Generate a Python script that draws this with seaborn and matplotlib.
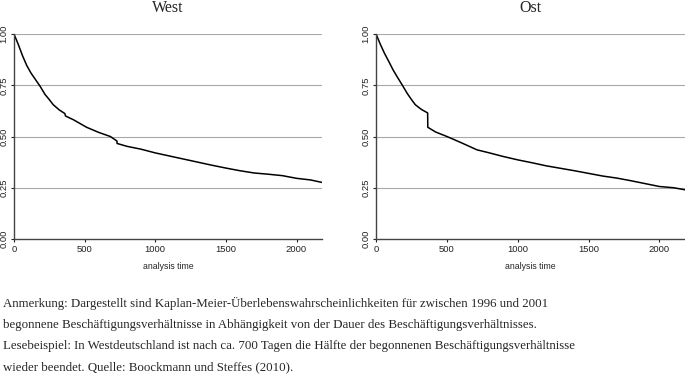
import matplotlib
matplotlib.use("Agg")
import matplotlib.pyplot as plt
import seaborn as sns
import pandas as pd

# Kaplan-Meier survival estimates
west_time = [0, 30, 60, 90, 120, 150, 185, 220, 250, 278, 320, 360, 365, 420, 514,
             600, 682, 729, 730, 800, 900, 1000, 1100, 1200, 1300, 1400, 1500, 1600,
             1700, 1800, 1900, 2000, 2100, 2180]
west_surv = [1.000, 0.950, 0.895, 0.847, 0.810, 0.780, 0.745, 0.705, 0.680, 0.655, 0.630,
             0.612, 0.600, 0.582, 0.545, 0.520, 0.500, 0.478, 0.466, 0.452, 0.438,
             0.420, 0.405, 0.390, 0.375, 0.360, 0.346, 0.333, 0.322, 0.316, 0.309,
             0.296, 0.288, 0.276]

ost_time = [0, 30, 60, 89, 120, 150, 183, 220, 250, 277, 320, 364, 365, 420, 500,
            600, 712, 800, 900, 1000, 1100, 1200, 1300, 1400, 1500, 1600, 1700, 1800,
            1900, 2000, 2100, 2180]
ost_surv = [1.000, 0.950, 0.905, 0.867, 0.825, 0.790, 0.753, 0.710, 0.680, 0.655, 0.632,
            0.615, 0.545, 0.522, 0.500, 0.470, 0.435, 0.420, 0.402, 0.386, 0.372,
            0.357, 0.345, 0.333, 0.320, 0.307, 0.297, 0.284, 0.270, 0.256, 0.250, 0.240]

panel_titles = ["West", "Ost"]
y_ticks = [0.0, 0.25, 0.5, 0.75, 1.0]
x_ticks = [0, 500, 1000, 1500, 2000]

caption = ("Anmerkung: Dargestellt sind Kaplan-Meier-Überlebenswahrscheinlichkeiten für zwischen 1996 und 2001\n"
           "begonnene Beschäftigungsverhältnisse in Abhängigkeit von der Dauer des Beschäftigungsverhältnisses.\n"
           "Lesebeispiel: In Westdeutschland ist nach ca. 700 Tagen die Hälfte der begonnenen Beschäftigungsverhältnisse\n"
           "wieder beendet. Quelle: Boockmann und Steffes (2010).")

sns.set_theme(style="white")
plt.rcParams['font.family'] = ['Liberation Sans', 'DejaVu Sans']

fig = plt.figure(figsize=(6.85, 3.75), dpi=100)
ax_w = fig.add_axes([0.0204, 0.3627, 0.4496, 0.5466])
ax_o = fig.add_axes([0.549, 0.3627, 0.451, 0.5466])

panels = [(ax_w, west_time, west_surv), (ax_o, ost_time, ost_surv)]
for (ax, t, s), title in zip(panels, panel_titles):
    df = pd.DataFrame({"t": t, "s": s})
    for yv in y_ticks[1:]:
        ax.axhline(yv, color="#a8a8a8", lw=0.8, zorder=0)
    sns.lineplot(data=df, x="t", y="s", ax=ax, estimator=None, sort=False,
                 color="black", lw=1.1)
    ax.set_xlim(0, 2180)
    ax.set_ylim(0, 1.0)
    ax.set_xticks(x_ticks)
    ax.set_yticks(y_ticks)
    ax.set_yticklabels([f"{v:.2f}" for v in y_ticks], rotation=90, va="center")
    ax.tick_params(axis="both", labelsize=6.8, length=2.5, width=0.8, pad=1.5,
                   colors="#222222", left=True, bottom=True)
    ax.set_xlabel("analysis time", fontsize=6.3, labelpad=6)
    ax.set_ylabel("")
    ax.set_title(title, family=["Liberation Serif"], fontsize=11.5, pad=15.5)
    for side in ["top", "right"]:
        ax.spines[side].set_visible(False)
    for side in ["left", "bottom"]:
        ax.spines[side].set_color("#444444")
        ax.spines[side].set_linewidth(1.0)

fig.text(0.004, 0.208, caption, family=["Liberation Serif"], fontsize=9.3,
         va="top", ha="left", linespacing=2.0)

fig.savefig("out.png", dpi=100)
